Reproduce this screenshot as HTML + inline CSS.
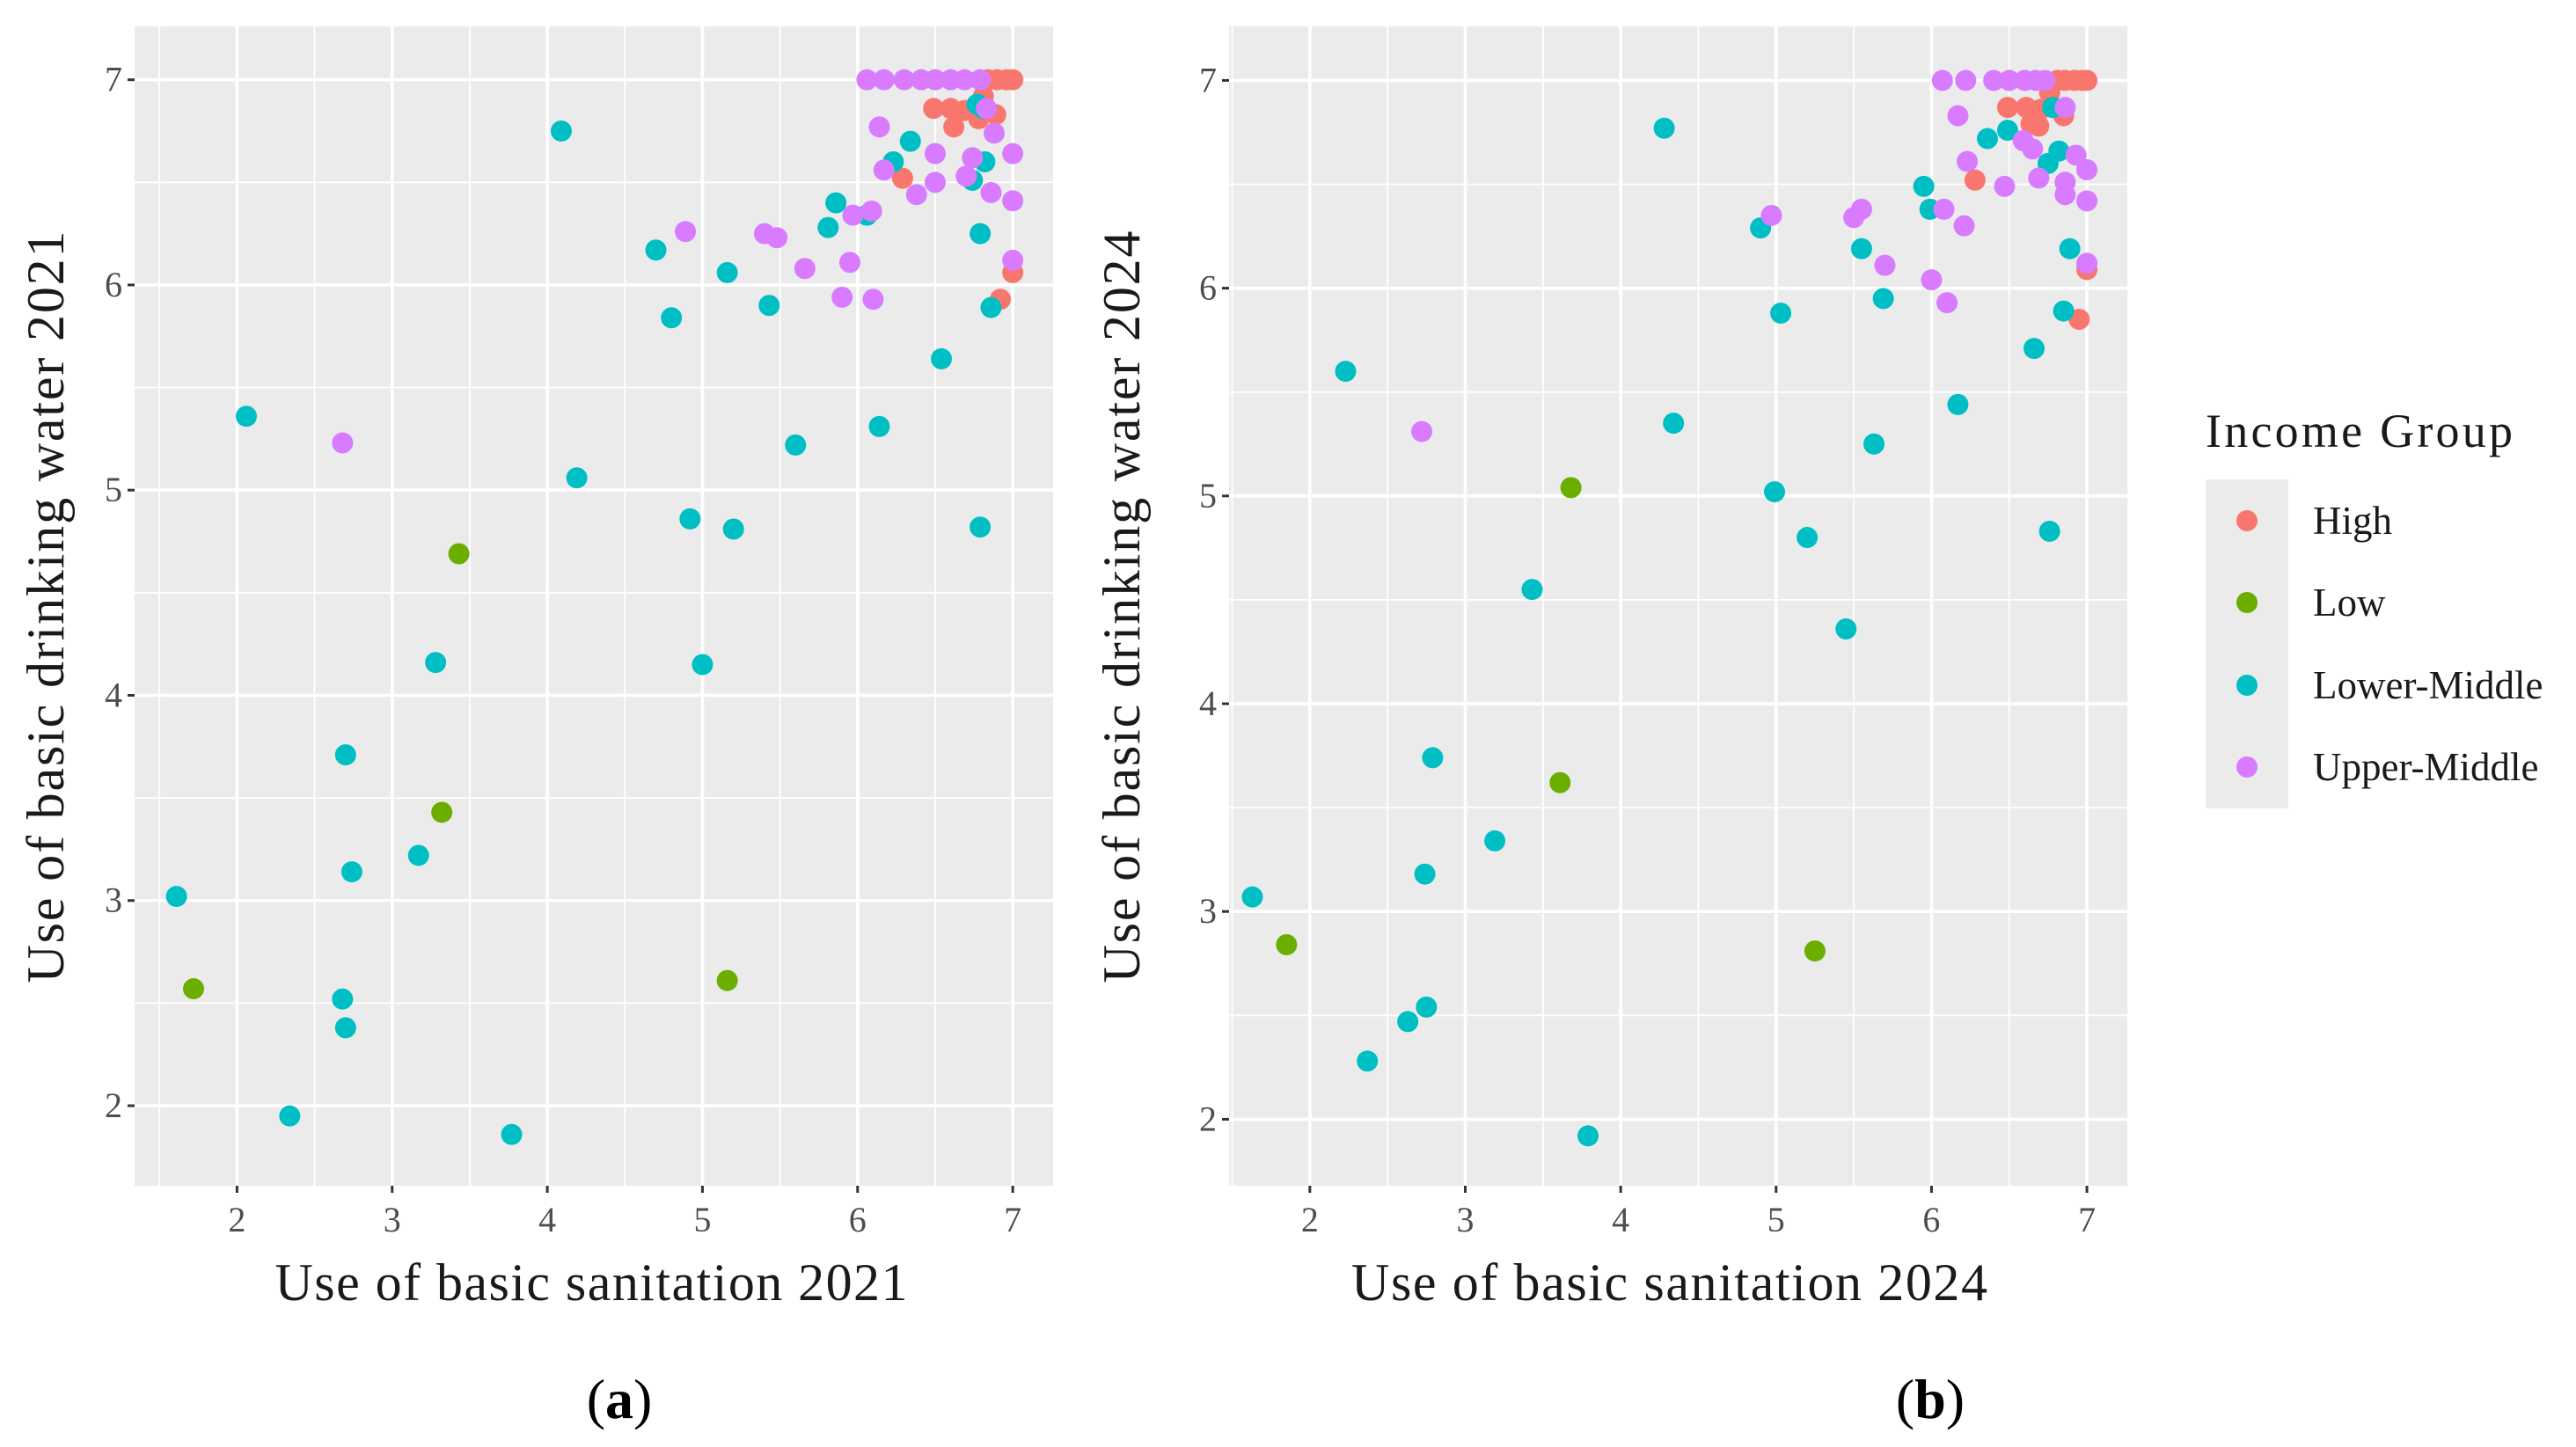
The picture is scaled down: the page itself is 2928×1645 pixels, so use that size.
<!DOCTYPE html>
<html><head><meta charset="utf-8"><style>
html,body{margin:0;padding:0;background:#fff;}
svg{display:block;font-family:"Liberation Serif",serif;}
</style></head><body>
<svg id="fig" width="2928" height="1645" viewBox="0 0 2928 1645" xmlns="http://www.w3.org/2000/svg">
<g id="pa"></g>
<g id="pb"></g>
<g id="legend">
  <text x="2507" y="508" font-size="54" fill="#1a1a1a" textLength="349">Income Group</text>
  <rect x="2507" y="545" width="94" height="374" fill="#ebebeb"/>
</g>
<text x="704" y="1612" font-size="64" text-anchor="middle" fill="#000">(<tspan font-weight="bold">a</tspan>)</text>
<text x="2194" y="1612" font-size="64" text-anchor="middle" fill="#000">(<tspan font-weight="bold">b</tspan>)</text>
</svg>
<script>
const groups = ["High","Low","Lower-Middle","Upper-Middle"];
const colors = ["#F8766D","#6BAE00","#00BFC4","#D97BFF"];
const xTicks = [2,3,4,5,6,7];
const yTicks = [2,3,4,5,6,7];
// Panel (a) 2021
const aHighX = [6.29,6.49,6.60,6.69,6.62,6.81,6.84,6.90,6.96,7.00,6.89,6.92,7.00,6.78];
const aHighY = [6.52,6.86,6.86,6.85,6.77,6.92,7.00,7.00,7.00,7.00,6.83,5.93,6.06,6.81];
const aLowX = [1.72,3.43,3.32,5.16];
const aLowY = [2.57,4.69,3.43,2.61];
const aLMX = [4.09,1.61,2.06,2.34,2.68,2.70,2.74,2.70,3.17,3.28,3.77,4.19,4.70,4.80,4.92,5.00,5.16,5.20,5.43,5.60,5.81,5.86,6.06,6.14,6.23,6.34,6.54,6.74,6.77,6.79,6.82,6.79,6.86,6.81];
const aLMY = [6.75,3.02,5.36,1.95,2.52,3.71,3.14,2.38,3.22,4.16,1.86,5.06,6.17,5.84,4.86,4.15,6.06,4.81,5.90,5.22,6.28,6.40,6.34,5.31,6.60,6.70,5.64,6.51,6.88,6.25,6.60,4.82,5.89,6.86];
const aUMX = [2.68,4.89,5.40,5.48,5.66,5.90,5.95,5.97,6.10,6.09,6.14,6.17,6.06,6.17,6.30,6.41,6.50,6.60,6.69,6.79,6.38,6.50,6.50,6.74,6.70,6.83,6.86,6.88,7.00,7.00,7.00];
const aUMY = [5.23,6.26,6.25,6.23,6.08,5.94,6.11,6.34,5.93,6.36,6.77,6.56,7.00,7.00,7.00,7.00,7.00,7.00,7.00,7.00,6.44,6.64,6.50,6.62,6.53,6.86,6.45,6.74,6.64,6.41,6.12];
// Panel (b) 2024
const bHighX = [6.28,6.49,6.61,6.70,6.69,6.64,6.85,6.81,6.86,6.92,6.97,7.00,6.95,7.00,6.76];
const bHighY = [6.52,6.87,6.87,6.86,6.78,6.79,6.83,7.00,7.00,7.00,7.00,7.00,5.85,6.09,6.94];
const bLowX = [1.85,3.68,3.61,5.25];
const bLowY = [2.84,5.04,3.62,2.81];
const bLMX = [1.63,2.23,2.37,2.63,2.75,2.74,2.79,3.19,3.43,3.79,4.28,4.34,4.90,4.99,5.03,5.20,5.45,5.55,5.63,5.69,5.95,5.99,6.17,6.36,6.49,6.66,6.76,6.75,6.82,6.78,6.85,6.89];
const bLMY = [3.07,5.60,2.28,2.47,2.54,3.18,3.74,3.34,4.55,1.92,6.77,5.35,6.29,5.02,5.88,4.80,4.36,6.19,5.25,5.95,6.49,6.38,5.44,6.72,6.76,5.71,4.83,6.60,6.66,6.87,5.89,6.19];
const bUMX = [2.72,4.97,5.50,5.55,5.70,6.00,6.10,6.08,6.17,6.21,6.23,6.47,6.59,6.65,6.69,6.86,6.86,6.93,6.86,7.00,7.00,7.00,6.07,6.22,6.40,6.50,6.60,6.67,6.73];
const bUMY = [5.31,6.35,6.34,6.38,6.11,6.04,5.93,6.38,6.83,6.30,6.61,6.49,6.71,6.67,6.53,6.45,6.51,6.64,6.87,6.57,6.42,6.12,7.00,7.00,7.00,7.00,7.00,7.00,7.00];

const NS="http://www.w3.org/2000/svg";
function mk(tag, attrs, parent){const e=document.createElementNS(NS,tag);for(const k in attrs)e.setAttribute(k,attrs[k]);parent.appendChild(e);return e;}

function drawPanel(g, p, series, xTitle, yTitle, prefix){
  const sx=v=>p.x0+(v-p.xd[0])/(p.xd[1]-p.xd[0])*(p.x1-p.x0);
  const sy=v=>p.y1-(v-p.yd[0])/(p.yd[1]-p.yd[0])*(p.y1-p.y0);
  const bg=mk('rect',{x:p.x0,y:p.y0,width:p.x1-p.x0,height:p.y1-p.y0,fill:'#ebebeb'},g);
  
  
  for(let i=0;i<xTicks.length;i++){
    const mv=xTicks[i]-0.5;
    if(mv>p.xd[0]){const l=mk('line',{x1:sx(mv),x2:sx(mv),y1:p.y0,y2:p.y1,stroke:'#fff','stroke-width':1.8},g);
      
      }
  }
  for(let i=0;i<yTicks.length;i++){
    const mv=yTicks[i]-0.5;
    if(mv>p.yd[0]){const l=mk('line',{x1:p.x0,x2:p.x1,y1:sy(mv),y2:sy(mv),stroke:'#fff','stroke-width':1.8},g);
      
      }
  }
  xTicks.forEach(t=>{
    const l=mk('line',{x1:sx(t),x2:sx(t),y1:p.y0,y2:p.y1,stroke:'#fff','stroke-width':3.6},g);
    
    
    const tk=mk('line',{x1:sx(t),x2:sx(t),y1:p.y1,y2:p.y1+8,stroke:'#333','stroke-width':3},g);
    
    
    const tx=mk('text',{x:sx(t),y:p.y1+52,'font-size':40,'text-anchor':'middle',fill:'#4d4d4d'},g);
    tx.textContent=t;
    
    
  });
  yTicks.forEach(t=>{
    const l=mk('line',{x1:p.x0,x2:p.x1,y1:sy(t),y2:sy(t),stroke:'#fff','stroke-width':3.6},g);
    
    
    const tk=mk('line',{x1:p.x0-8,x2:p.x0,y1:sy(t),y2:sy(t),stroke:'#333','stroke-width':3},g);
    
    
    const tx=mk('text',{x:p.x0-14,y:sy(t)+13,'font-size':40,'text-anchor':'end',fill:'#4d4d4d'},g);
    tx.textContent=t;
    
    
  });
  series.forEach((s,si)=>{
    for(let i=0;i<s[0].length;i++){
      const c=mk('circle',{cx:sx(s[0][i]),cy:sy(s[1][i]),r:12,fill:colors[si]},g);
      
      
    }
  });
  const xt=mk('text',{x:(p.x0+p.x1)/2+p.xtOff,y:1478,'font-size':60,'text-anchor':'middle',fill:'#1a1a1a',textLength:p.xtLen},g);
  xt.textContent=xTitle;
  
  
  const yt=mk('text',{x:0,y:0,'font-size':60,'text-anchor':'middle',fill:'#1a1a1a',textLength:855,transform:`translate(${p.ytX},690) rotate(-90)`},g);
  yt.textContent=yTitle;
  
  
}

drawPanel(document.getElementById('pa'),
  {x0:153,x1:1197,y0:30,y1:1348,xd:[1.34,7.26],yd:[1.61,7.26],xtOff:-3,xtLen:719,ytX:72},
  [[aHighX,aHighY],[aLowX,aLowY],[aLMX,aLMY],[aUMX,aUMY]],
  "Use of basic sanitation 2021","Use of basic drinking water 2021","panel-a");
drawPanel(document.getElementById('pb'),
  {x0:1397,x1:2418,y0:30,y1:1348,xd:[1.48,7.26],yd:[1.68,7.26],xtOff:-10,xtLen:723,ytX:1295},
  [[bHighX,bHighY],[bLowX,bLowY],[bLMX,bLMY],[bUMX,bUMY]],
  "Use of basic sanitation 2024","Use of basic drinking water 2024","panel-b");

const lg=document.getElementById('legend');
const legY=[592,685,779,872];
groups.forEach((gname,i)=>{
  const c=mk('circle',{cx:2554,cy:legY[i],r:12,fill:colors[i]},lg);
  
  
  const t=mk('text',{x:2629,y:legY[i]+15,'font-size':45,fill:'#1a1a1a'},lg);
  t.textContent=gname;
  
  
});
</script>
</body></html>
